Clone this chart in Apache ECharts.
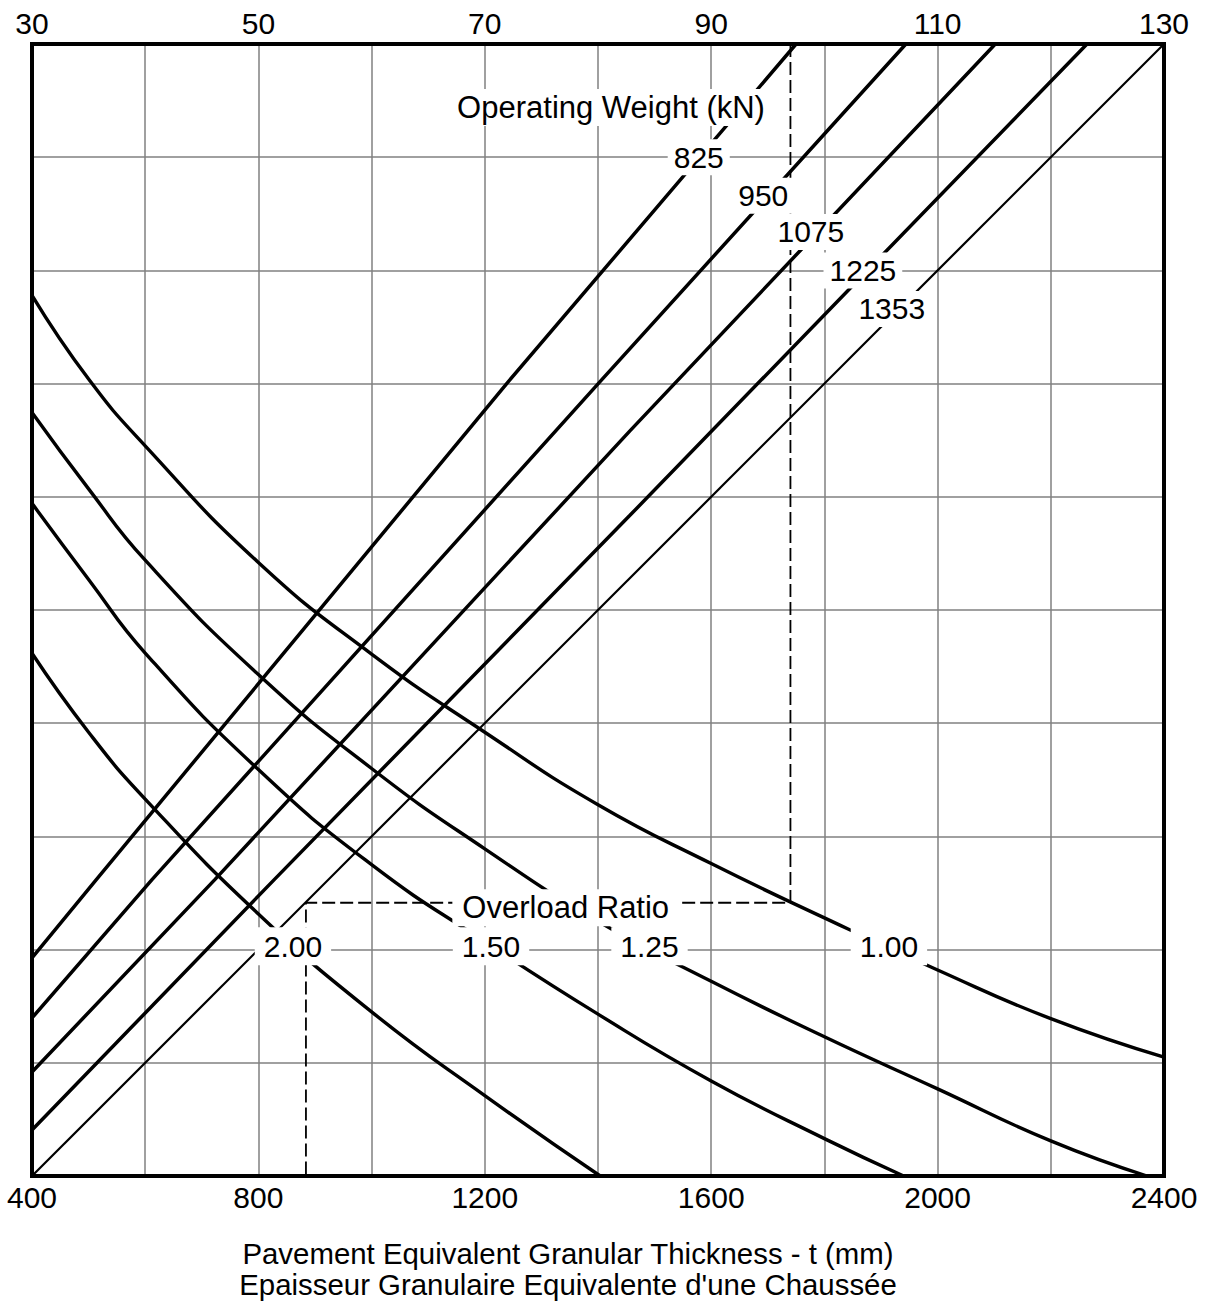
<!DOCTYPE html>
<html><head><meta charset="utf-8">
<script src="https://cdn.jsdelivr.net/npm/echarts@6/dist/echarts.min.js"></script>
<style>html,body{margin:0;padding:0;background:#fff}#chart{width:1207px;height:1303px}</style>
</head><body><div id="chart"></div>
<script>
// ---------- data (x = thickness t in mm, y = chart ordinate in grid units x10, hidden) ----------
const thicknessTicks = [400, 800, 1200, 1600, 2000, 2400];
const topTicks = [30, 50, 70, 90, 110, 130];

const weightNames = ['825', '950', '1075', '1225', '1353'];
const w825  = [[400, 19.26], [514, 26.2], [1242, 70.2], [1750, 100]];
const w950  = [[400, 13.96], [612, 26.18], [1404, 70.2], [1944, 100]];
const w1075 = [[400, 9.19], [723, 26.18], [1456, 65.8], [2102, 100]];
const w1225 = [[400, 4.06], [828, 26.18], [1456, 58.34], [2264, 100]];
const w1353 = [[400, 0], [2400, 100]];

const ratioNames = ['2.00', '1.50', '1.25', '1.00'];
const r200 = [[400, 46.18], [500, 39.2], [600, 33.3], [800, 23.15], [1000, 14.5], [1200, 7.1], [1404, 0]];
const r150 = [[400, 59.42], [500, 52.7], [600, 46.2], [800, 35.9], [1000, 27.5], [1200, 20.7],
              [1400, 14.3], [1600, 8.4], [1800, 3.3], [1940, 0]];
const r125 = [[400, 67.45], [500, 60.7], [600, 54.4], [800, 44.3], [1000, 36.0], [1200, 28.9],
              [1400, 22.5], [1600, 17.2], [1800, 12.3], [2000, 7.7], [2200, 3.1], [2370, 0]];
const r100 = [[400, 77.8], [500, 70.4], [600, 64.5], [800, 54.2], [1000, 46.1], [1200, 39.2],
              [1400, 32.8], [1600, 27.6], [1800, 22.8], [2000, 18.2], [2200, 13.9], [2400, 10.5]];

const guidePath = [[1740, 100], [1740, 24.14], [884, 24.14], [884, 0]];

// annotation anchors (data coordinates)
const weightLabelPos = [[1578, 90.0], [1692, 86.6], [1776, 83.4], [1868, 80.0], [1919, 76.6]];
const ratioLabelPos  = [[861, 20.3], [1211, 20.3], [1491, 20.3], [1914, 20.3]];
const groupTitles    = ['Operating Weight (kN)', 'Overload Ratio'];
const groupTitlePos  = [[1423, 94.4], [1343, 23.7]];
const axisTitles     = ['Pavement Equivalent Granular Thickness - t (mm)',
                        "Epaisseur Granulaire Equivalente d'une Chaussée"];

// ---------- chart ----------
const FONT = '"Liberation Sans", Arial, Helvetica, sans-serif';
const chart = echarts.init(document.getElementById('chart'), null, { renderer: 'svg', width: 1207, height: 1303 });

function borderAxis(extra) {
  return Object.assign({
    type: 'value', z: 5, silent: true,
    axisLine: { show: true, onZero: false, lineStyle: { color: '#000', width: 4, cap: 'square' } },
    axisTick: { show: false }, splitLine: { show: false }, axisLabel: { show: false }
  }, extra);
}
function gridAxis(extra) {
  return Object.assign({
    type: 'value', z: 0, silent: true,
    axisLine: { show: false }, axisTick: { show: false }, axisLabel: { show: false },
    splitLine: { show: true, showMinLine: false, showMaxLine: false, lineStyle: { color: '#808080', width: 1.5 } }
  }, extra);
}
const labelStyle = { color: '#000', fontSize: 30, fontFamily: FONT };

const lineSeries = [];
[w825, w950, w1075, w1225, w1353].forEach((d, i) => lineSeries.push({
  name: 'W' + weightNames[i], type: 'line', data: d, symbol: 'none', z: 3, silent: true,
  lineStyle: { color: '#000', width: i === 4 ? 2.2 : 3.5 }
}));
[r200, r150, r125, r100].forEach((d, i) => lineSeries.push({
  name: 'R' + ratioNames[i], type: 'line', data: d, symbol: 'none', z: 3, silent: true,
  smooth: 0.5,
  lineStyle: { color: '#000', width: 3.4 }
}));
lineSeries.push({
  name: 'guide', type: 'line', data: guidePath, symbol: 'none', z: 4, silent: true,
  lineStyle: { color: '#000', width: 1.8, type: [13, 5] }
});

const labelItems = [];
weightNames.forEach((n, i) => labelItems.push({ name: n, value: weightLabelPos[i], label: { padding: [3, 6, 3, 6] } }));
ratioNames.forEach((n, i) => labelItems.push({ name: n, value: ratioLabelPos[i], label: { padding: [4, 9, 4, 9] } }));
groupTitles.forEach((n, i) => labelItems.push({ name: n, value: groupTitlePos[i], label: { padding: [3, 10, 3, 10], fontSize: 31 } }));

lineSeries.push({
  name: 'labels', type: 'scatter', data: labelItems, symbolSize: 1, z: 10, silent: true,
  itemStyle: { color: '#fff' },
  label: Object.assign({ show: true, position: 'inside', formatter: '{b}', backgroundColor: '#fff',
    textBorderWidth: 0, textBorderColor: 'transparent', opacity: 1 }, labelStyle)
});

chart.setOption({
  animation: false,
  backgroundColor: '#fff',
  textStyle: { fontFamily: FONT },
  grid: { left: 32, top: 44, width: 1132, height: 1132, containLabel: false, outerBoundsMode: 'none' },
  xAxis: [
    borderAxis({ position: 'bottom', min: 400, max: 2400, interval: 400,
      axisLabel: Object.assign({ show: true, margin: 6,
        formatter: v => thicknessTicks.includes(v) ? String(v) : '' }, labelStyle) }),
    borderAxis({ position: 'top', min: 30, max: 130, interval: 10,
      axisLabel: Object.assign({ show: true, margin: 6,
        formatter: v => topTicks.includes(v) ? String(v) : '' }, labelStyle) }),
    gridAxis({ position: 'bottom', min: 400, max: 2400, interval: 200 })
  ],
  yAxis: [
    borderAxis({ position: 'left', min: 0, max: 100, interval: 10 }),
    borderAxis({ position: 'right', min: 0, max: 100, interval: 10 }),
    gridAxis({ position: 'left', min: 0, max: 100, interval: 10 })
  ],
  graphic: axisTitles.map((t, i) => ({
    type: 'text', x: 568, y: 1253 + i * 31, silent: true,
    style: { text: t, fill: '#000', font: '29.4px ' + FONT, textAlign: 'center', textVerticalAlign: 'middle' }
  })),
  series: lineSeries
});
</script>
</body></html>
